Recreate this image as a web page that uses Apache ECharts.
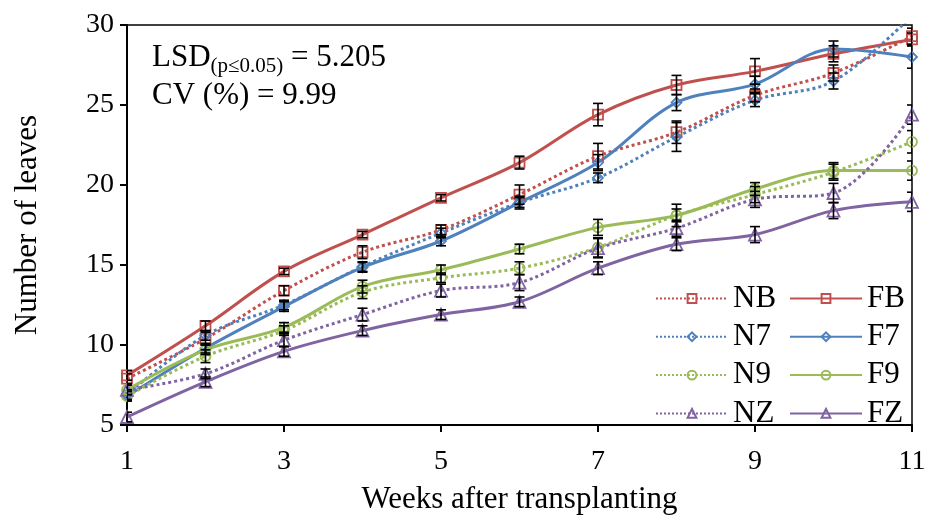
<!DOCTYPE html>
<html>
<head>
<meta charset="utf-8">
<script src="https://cdn.jsdelivr.net/npm/echarts@6/dist/echarts.min.js"></script>
<style>
  html, body { margin: 0; padding: 0; background: #fff; }
  #chart { width: 928px; height: 517px; }
</style>
</head>
<body>
<div id="chart"></div>
<script>
// Weeks after transplanting
const weeks = [1, 2, 3, 4, 5, 6, 7, 8, 9, 10, 11];

// Mean number of leaves per treatment
const NB = [7.9, 10.4, 13.4, 15.8, 17.2, 19.4, 21.8, 23.3, 25.6, 27.0, 29.3];
const FB = [8.1, 11.2, 14.6, 16.9, 19.2, 21.4, 24.4, 26.25, 27.1, 28.2, 29.1];
const N7 = [6.9, 10.6, 12.5, 14.9, 17.0, 18.9, 20.45, 23.0, 25.3, 26.5, 30.6];
const F7 = [6.8, 9.8, 12.4, 14.85, 16.5, 18.9, 21.4, 25.15, 26.3, 28.5, 28.0];
const N9 = [6.8, 9.3, 10.9, 13.3, 14.2, 14.8, 16.1, 18.1, 19.4, 20.8, 22.7];
const F9 = [7.2, 9.7, 11.1, 13.65, 14.7, 16.0, 17.35, 18.1, 19.75, 20.9, 20.9];
const NZ = [7.2, 8.2, 10.3, 11.9, 13.4, 13.9, 16.05, 17.3, 19.1, 19.5, 24.4];
const FZ = [5.5, 7.7, 9.6, 10.9, 11.9, 12.7, 14.8, 16.3, 16.9, 18.4, 18.95];

// Standard errors (half length of each error bar)
const NB_err = [0.3, 0.4, 0.3, 0.4, 0.3, 0.6, 0.8, 0.7, 0.4, 0.5, 0.5];
const FB_err = [0.3, 0.3, 0.2, 0.2, 0.2, 0.4, 0.7, 0.6, 0.8, 0.5, 0.4];
const N7_err = [0.3, 0.3, 0.3, 0.3, 0.3, 0.3, 0.3, 0.9, 0.4, 0.5, 0.5];
const F7_err = [0.3, 0.3, 0.3, 0.3, 0.3, 0.4, 0.5, 0.5, 0.5, 0.5, 0.7];
const N9_err = [0.3, 0.4, 0.3, 0.4, 0.3, 0.4, 0.6, 0.4, 0.5, 0.5, 0.7];
const F9_err = [0.3, 0.3, 0.3, 0.4, 0.3, 0.3, 0.5, 0.7, 0.4, 0.5, 0.6];
const NZ_err = [0.3, 0.3, 0.4, 0.4, 0.4, 0.5, 0.6, 0.5, 0.5, 0.6, 0.6];
const FZ_err = [0.3, 0.3, 0.3, 0.3, 0.3, 0.3, 0.4, 0.4, 0.5, 0.5, 0.6];

// Axis ticks
const yTicks = { min: 5, max: 30, step: 5 };
const xTicks = { min: 1, max: 11, step: 2 };

const FONT = '"Liberation Serif", "Times New Roman", serif';
const RED = '#C0504D', BLUE = '#4F81BD', GREEN = '#9BBB59', PURPLE = '#8064A2';

const treatments = [
  { name: 'NB', values: NB, err: NB_err, color: RED,    symbol: 'rect',     dotted: true },
  { name: 'FB', values: FB, err: FB_err, color: RED,    symbol: 'rect',     dotted: false },
  { name: 'N7', values: N7, err: N7_err, color: BLUE,   symbol: 'diamond',  dotted: true },
  { name: 'F7', values: F7, err: F7_err, color: BLUE,   symbol: 'diamond',  dotted: false },
  { name: 'N9', values: N9, err: N9_err, color: GREEN,  symbol: 'circle',   dotted: true },
  { name: 'F9', values: F9, err: F9_err, color: GREEN,  symbol: 'circle',   dotted: false },
  { name: 'NZ', values: NZ, err: NZ_err, color: PURPLE, symbol: 'triangle', dotted: true },
  { name: 'FZ', values: FZ, err: FZ_err, color: PURPLE, symbol: 'triangle', dotted: false }
];

const lineSeries = treatments.map(t => ({
  name: t.name,
  type: 'line',
  smooth: 0.35,
  data: weeks.map((w, i) => [w, t.values[i]]),
  symbol: t.symbol,
  symbolSize: t.symbol === 'triangle' ? 12 : 10,
  showSymbol: true,
  lineStyle: { color: t.color, width: 3, type: t.dotted ? 'dotted' : 'solid' },
  itemStyle: { color: 'rgba(255,255,255,0)', borderColor: t.color, borderWidth: 1.8 },
  emphasis: { disabled: true },
  z: 3
}));

// Error bars with caps, drawn through the axis coordinate system
const errorSeries = treatments.map(t => ({
  name: t.name + ' error',
  type: 'custom',
  data: weeks.map((w, i) => [w, t.values[i] - t.err[i], t.values[i] + t.err[i]]),
  renderItem: function (params, api) {
    const lo = api.coord([api.value(0), api.value(1)]);
    const hi = api.coord([api.value(0), api.value(2)]);
    const cap = 5;
    const style = { stroke: '#000', lineWidth: 1.6 };
    return {
      type: 'group',
      children: [
        { type: 'line', shape: { x1: lo[0], y1: lo[1], x2: hi[0], y2: hi[1] }, style },
        { type: 'line', shape: { x1: lo[0] - cap, y1: lo[1], x2: lo[0] + cap, y2: lo[1] }, style },
        { type: 'line', shape: { x1: hi[0] - cap, y1: hi[1], x2: hi[0] + cap, y2: hi[1] }, style }
      ]
    };
  },
  clip: true,
  silent: true,
  z: 4
}));

const legendCommon = {
  orient: 'vertical',
  itemWidth: 72,
  itemHeight: 11,
  itemGap: 7.3,
  top: 278,
  textStyle: { fontFamily: FONT, fontSize: 31, color: '#000', lineHeight: 30 },
  selectedMode: false
};

const chart = echarts.init(document.getElementById('chart'), null, { renderer: 'canvas' });
chart.setOption({
  backgroundColor: '#fff',
  animation: false,
  grid: {
    left: 127, right: 16, top: 25, bottom: 92,
    outerBoundsMode: 'none',
    containLabel: false,
    show: true, borderColor: '#000', borderWidth: 1.5
  },
  xAxis: {
    type: 'value',
    min: xTicks.min, max: xTicks.max, interval: xTicks.step,
    name: 'Weeks after transplanting',
    nameLocation: 'middle',
    nameGap: 59,
    nameTextStyle: { fontFamily: FONT, fontSize: 31, color: '#000' },
    axisLine: { show: true, lineStyle: { color: '#000', width: 2 } },
    axisTick: { show: true, inside: false, length: 7, lineStyle: { color: '#000', width: 2 } },
    axisLabel: { fontFamily: FONT, fontSize: 28, color: '#000', margin: 23 },
    splitLine: { show: false }
  },
  yAxis: {
    type: 'value',
    min: yTicks.min, max: yTicks.max, interval: yTicks.step,
    name: 'Number of leaves',
    nameLocation: 'middle',
    nameGap: 84,
    nameTextStyle: { fontFamily: FONT, fontSize: 31, color: '#000' },
    axisLine: { show: true, lineStyle: { color: '#000', width: 2 } },
    axisTick: { show: true, inside: false, length: 7, lineStyle: { color: '#000', width: 2 } },
    axisLabel: { fontFamily: FONT, fontSize: 28, color: '#000', margin: 13 },
    splitLine: { show: false }
  },
  legend: [
    Object.assign({}, legendCommon, { left: 650, data: ['NB', 'N7', 'N9', 'NZ'] }),
    Object.assign({}, legendCommon, { left: 784, data: ['FB', 'F7', 'F9', 'FZ'] })
  ],
  graphic: [
    {
      type: 'text',
      left: 152,
      top: 42,
      style: {
        text: '{m|LSD}{s|(p≤0.05)}{m| = 5.205}\n{m|CV (%) = 9.99}',
        rich: {
          m: { fontFamily: FONT, fontSize: 31, fill: '#000', lineHeight: 38 },
          s: { fontFamily: FONT, fontSize: 21, fill: '#000', lineHeight: 38, verticalAlign: 'bottom', padding: [14, 0, 0, 0] }
        }
      },
      z: 10
    }
  ],
  series: lineSeries.concat(errorSeries)
});
</script>
</body>
</html>
